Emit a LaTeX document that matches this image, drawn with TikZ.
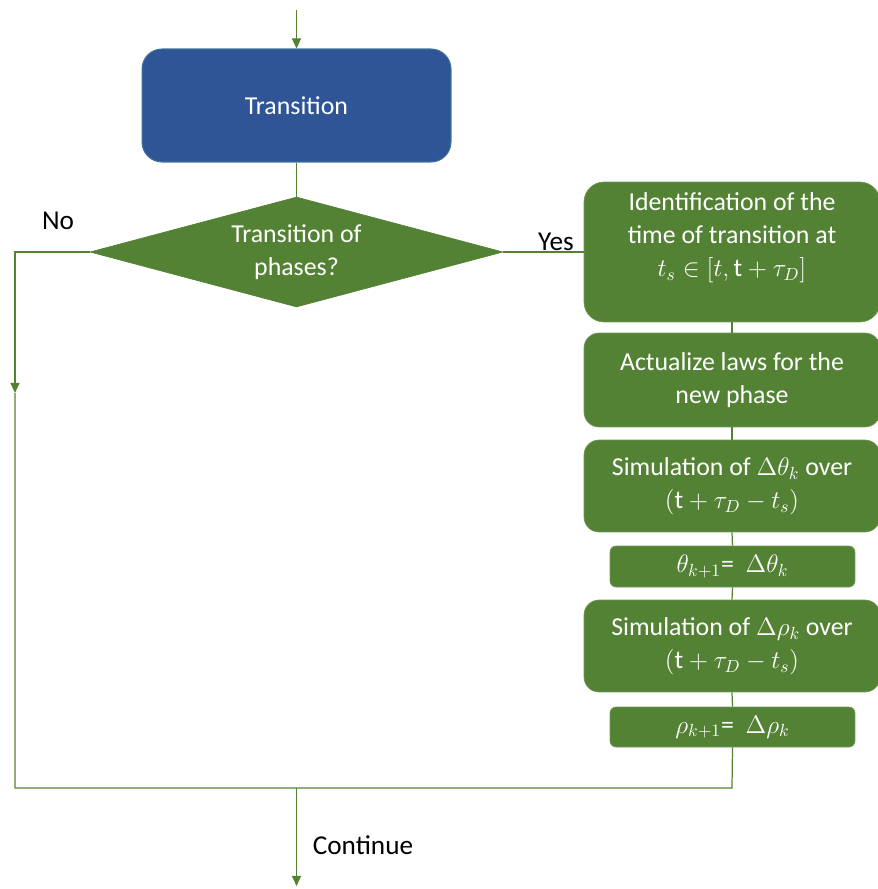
\documentclass[tikz,border=0pt]{standalone}
\usepackage{fontspec}
\setmainfont{Carlito}
\usetikzlibrary{shapes.geometric,arrows.meta}
\definecolor{flgreen}{HTML}{548235}
\definecolor{flgreenedge}{HTML}{6F9A50}
\definecolor{flblue}{HTML}{2F5597}
\definecolor{flblueedge}{HTML}{41719C}
\begin{document}
\begin{tikzpicture}[x=0.02cm,y=-0.02cm,
  boxtxt/.style={font=\fontsize{14.7}{18.7}\selectfont, text=white, align=center, inner sep=0pt},
  gbox/.style={draw=flgreenedge, line width=0.4pt, fill=flgreen, inner sep=0pt, text=white, align=center, font=\fontsize{14.7}{18.7}\selectfont},
  bluebox/.style={draw=flblueedge, line width=0.6pt, fill=flblue, rounded corners=0.4cm, inner sep=0pt, text=white, align=center, font=\fontsize{14.7}{18.7}\selectfont},
  diam/.style={diamond, draw=flgreen, fill=flgreen, inner sep=0pt, shape aspect=3.75, minimum width=8.26cm, minimum height=2.2cm, text=white, align=center, font=\fontsize{14.7}{18.7}\selectfont},
  lbl/.style={font=\fontsize{15.5}{18.7}\selectfont, text=black, inner sep=0pt},
  conn/.style={draw=flgreen, line width=0.7pt},
  arr/.style={conn, -{Triangle[width=5.2pt,length=5.8pt]}}
]
\useasboundingbox (0,0) rectangle (877,889);
% nodes
\node[bluebox, minimum width=6.18cm, minimum height=2.26cm] (trans) at (296.5,105.5) {Transition};
\node[diam] (dec) at (296.5,252) {Transition of\\phases?};
\node[gbox, rounded corners=0.4cm, minimum width=5.92cm, minimum height=2.8cm] (b1) at (732,252) {};
\node[boxtxt] (b1t) at (732,238) {Identification of the\\time of transition at\\$t_s \in [t, \mathrm{t}+\tau_D]$};
\node[gbox, rounded corners=0.3cm, minimum width=5.92cm, minimum height=1.88cm] (b2) at (732,380) {Actualize laws for the\\new phase};
\node[gbox, rounded corners=0.3cm, minimum width=5.92cm, minimum height=1.84cm] (b3) at (732,486) {Simulation of $\Delta\theta_k$ over\\$(\mathrm{t}+\tau_D-t_s)$};
\node[gbox, rounded corners=0.12cm, minimum width=4.9cm, minimum height=0.82cm] (b4) at (732.5,566.5) {$\theta_{k+1}$=\ \ $\Delta\theta_k$};
\node[gbox, rounded corners=0.3cm, minimum width=5.92cm, minimum height=1.84cm] (b5) at (732,646) {Simulation of $\Delta\rho_k$ over\\$(\mathrm{t}+\tau_D-t_s)$};
\node[gbox, rounded corners=0.12cm, minimum width=4.9cm, minimum height=0.8cm] (b6) at (732.5,727) {$\rho_{k+1}$=\ \ $\Delta\rho_k$};
% labels
\node[lbl] (no) at (58,221) {No};
\node[lbl] (yes) at (556,242) {Yes};
\node[lbl] (cont) at (363,845) {Continue};
% coordinates
\coordinate (top) at (296.5,10);
\coordinate (nocorner) at (15,252);
\coordinate (nomid) at (15,393);
\coordinate (blcorner) at (15,788);
\coordinate (brcorner) at (732,788);
\coordinate (join) at (296.5,788);
\coordinate (endpt) at (296.5,886);
% connectors
\draw[arr] (top) -- (trans.north);
\draw[conn] (trans.south) -- (dec.north);
\draw[conn] (dec.east) -- (b1.west);
\draw[arr] (dec.west) -- (nocorner) -- (nomid);
\draw[conn] (nomid) -- (blcorner) -- (brcorner) -- (b6.south);
\draw[arr] (join) -- (endpt);
\draw[conn] (b1.south) -- (b2.north);
\draw[conn] (b2.south) -- (b3.north);
\draw[conn] (b3.south) -- (b4.north);
\draw[conn] (b4.south) -- (b5.north);
\draw[conn] (b5.south) -- (b6.north);
\end{tikzpicture}
\end{document}
